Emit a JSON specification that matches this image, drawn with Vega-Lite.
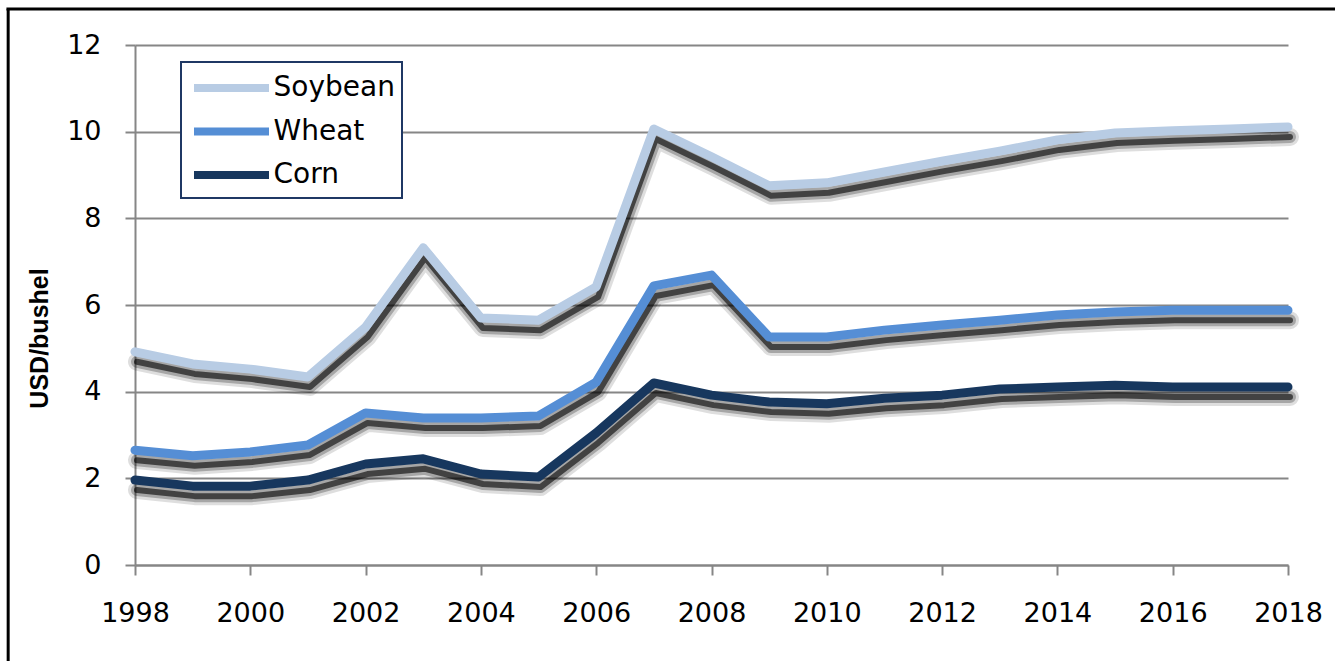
{
  "$schema": "https://vega.github.io/schema/vega-lite/v6.json",
  "width": 1153,
  "height": 520,
  "autosize": {"type": "none"},
  "padding": {"left": 135, "top": 45, "right": 47, "bottom": 96},
  "background": "white",
  "config": {
    "view": {"stroke": null},
    "font": "DejaVu Sans",
    "legend": {"strokeWidth": 2}
  },
  "data": {
    "values": [
      {"year": 1998, "crop": "Soybean", "price": 4.92},
      {"year": 1999, "crop": "Soybean", "price": 4.64},
      {"year": 2000, "crop": "Soybean", "price": 4.52},
      {"year": 2001, "crop": "Soybean", "price": 4.34},
      {"year": 2002, "crop": "Soybean", "price": 5.49},
      {"year": 2003, "crop": "Soybean", "price": 7.32},
      {"year": 2004, "crop": "Soybean", "price": 5.7},
      {"year": 2005, "crop": "Soybean", "price": 5.65},
      {"year": 2006, "crop": "Soybean", "price": 6.42},
      {"year": 2007, "crop": "Soybean", "price": 10.06},
      {"year": 2008, "crop": "Soybean", "price": 9.42},
      {"year": 2009, "crop": "Soybean", "price": 8.75},
      {"year": 2010, "crop": "Soybean", "price": 8.82},
      {"year": 2011, "crop": "Soybean", "price": 9.07},
      {"year": 2012, "crop": "Soybean", "price": 9.32},
      {"year": 2013, "crop": "Soybean", "price": 9.55},
      {"year": 2014, "crop": "Soybean", "price": 9.81},
      {"year": 2015, "crop": "Soybean", "price": 9.97},
      {"year": 2016, "crop": "Soybean", "price": 10.02},
      {"year": 2017, "crop": "Soybean", "price": 10.06},
      {"year": 2018, "crop": "Soybean", "price": 10.11},
      {"year": 1998, "crop": "Wheat", "price": 2.65},
      {"year": 1999, "crop": "Wheat", "price": 2.52},
      {"year": 2000, "crop": "Wheat", "price": 2.61},
      {"year": 2001, "crop": "Wheat", "price": 2.77},
      {"year": 2002, "crop": "Wheat", "price": 3.51},
      {"year": 2003, "crop": "Wheat", "price": 3.39},
      {"year": 2004, "crop": "Wheat", "price": 3.39},
      {"year": 2005, "crop": "Wheat", "price": 3.44},
      {"year": 2006, "crop": "Wheat", "price": 4.22},
      {"year": 2007, "crop": "Wheat", "price": 6.44},
      {"year": 2008, "crop": "Wheat", "price": 6.69},
      {"year": 2009, "crop": "Wheat", "price": 5.26},
      {"year": 2010, "crop": "Wheat", "price": 5.26},
      {"year": 2011, "crop": "Wheat", "price": 5.42},
      {"year": 2012, "crop": "Wheat", "price": 5.54},
      {"year": 2013, "crop": "Wheat", "price": 5.65},
      {"year": 2014, "crop": "Wheat", "price": 5.77},
      {"year": 2015, "crop": "Wheat", "price": 5.84},
      {"year": 2016, "crop": "Wheat", "price": 5.88},
      {"year": 2017, "crop": "Wheat", "price": 5.88},
      {"year": 2018, "crop": "Wheat", "price": 5.88},
      {"year": 1998, "crop": "Corn", "price": 1.96},
      {"year": 1999, "crop": "Corn", "price": 1.82},
      {"year": 2000, "crop": "Corn", "price": 1.82},
      {"year": 2001, "crop": "Corn", "price": 1.96},
      {"year": 2002, "crop": "Corn", "price": 2.33},
      {"year": 2003, "crop": "Corn", "price": 2.45},
      {"year": 2004, "crop": "Corn", "price": 2.1},
      {"year": 2005, "crop": "Corn", "price": 2.03},
      {"year": 2006, "crop": "Corn", "price": 3.05},
      {"year": 2007, "crop": "Corn", "price": 4.2},
      {"year": 2008, "crop": "Corn", "price": 3.92},
      {"year": 2009, "crop": "Corn", "price": 3.76},
      {"year": 2010, "crop": "Corn", "price": 3.72},
      {"year": 2011, "crop": "Corn", "price": 3.85},
      {"year": 2012, "crop": "Corn", "price": 3.92},
      {"year": 2013, "crop": "Corn", "price": 4.06},
      {"year": 2014, "crop": "Corn", "price": 4.11},
      {"year": 2015, "crop": "Corn", "price": 4.15},
      {"year": 2016, "crop": "Corn", "price": 4.11},
      {"year": 2017, "crop": "Corn", "price": 4.11},
      {"year": 2018, "crop": "Corn", "price": 4.11}
    ]
  },
  "layer": [
    {
      "data": {"values": [{}]},
      "mark": {"type": "rule", "color": "black", "strokeWidth": 3},
      "encoding": {
        "x": {"datum": 1995.8, "type": "quantitative"},
        "y": {"datum": 12.83, "type": "quantitative"},
        "y2": {"datum": -3}
      }
    },
    {
      "data": {"values": [{}]},
      "mark": {"type": "rule", "color": "black", "strokeWidth": 3},
      "encoding": {
        "x": {"datum": 1995.77, "type": "quantitative"},
        "x2": {"datum": 2022},
        "y": {"datum": 12.83, "type": "quantitative"}
      }
    },
    {
      "mark": {"type": "line", "color": "black", "opacity": 0.13, "strokeWidth": 18, "strokeCap": "round", "strokeJoin": "round", "xOffset": 2, "yOffset": 10},
      "encoding": {
        "x": {"field": "year", "type": "quantitative"},
        "y": {"field": "price", "type": "quantitative"},
        "detail": {"field": "crop"}
      }
    },
    {
      "mark": {"type": "line", "color": "black", "opacity": 0.25, "strokeWidth": 12, "strokeCap": "round", "strokeJoin": "round", "xOffset": 2, "yOffset": 10},
      "encoding": {
        "x": {"field": "year", "type": "quantitative"},
        "y": {"field": "price", "type": "quantitative"},
        "detail": {"field": "crop"}
      }
    },
    {
      "mark": {"type": "line", "color": "black", "opacity": 0.6, "strokeWidth": 6, "strokeCap": "round", "strokeJoin": "round", "xOffset": 2, "yOffset": 10},
      "encoding": {
        "x": {"field": "year", "type": "quantitative"},
        "y": {"field": "price", "type": "quantitative"},
        "detail": {"field": "crop"}
      }
    },
    {
      "mark": {"type": "line", "strokeWidth": 9, "strokeCap": "round", "strokeJoin": "round"},
      "encoding": {
        "x": {
          "field": "year",
          "type": "quantitative",
          "scale": {"domain": [1998, 2018], "nice": false, "zero": false},
          "axis": {
            "title": null,
            "values": [1998, 2000, 2002, 2004, 2006, 2008, 2010, 2012, 2014, 2016, 2018],
            "format": "d",
            "grid": false,
            "labelFlush": false,
            "labelFont": "DejaVu Sans",
            "labelFontSize": 27,
            "labelColor": "black",
            "labelPadding": 25,
            "domainColor": "#868686",
            "domainWidth": 2,
            "tickColor": "#868686",
            "tickWidth": 2,
            "tickSize": 10
          }
        },
        "y": {
          "field": "price",
          "type": "quantitative",
          "scale": {"domain": [0, 12], "nice": false},
          "axis": {
            "title": "USD/bushel",
            "titleFont": "Liberation Sans",
            "titleFontWeight": "bold",
            "titleFontSize": 25,
            "titleColor": "black",
            "titleAngle": 270,
            "titleAlign": "center",
            "titleBaseline": "middle",
            "titleX": -96,
            "titleY": 293,
            "values": [0, 2, 4, 6, 8, 10, 12],
            "grid": true,
            "gridColor": "#868686",
            "gridWidth": 2,
            "labelFont": "DejaVu Sans",
            "labelFontSize": 27,
            "labelColor": "black",
            "labelPadding": 24,
            "domainColor": "#868686",
            "domainWidth": 2,
            "tickColor": "#868686",
            "tickWidth": 2,
            "tickSize": 10
          }
        },
        "color": {
          "field": "crop",
          "type": "nominal",
          "scale": {"domain": ["Soybean", "Wheat", "Corn"], "range": ["#b8cce4", "#558ed5", "#17375e"]},
          "legend": {
            "orient": "none",
            "legendX": 46,
            "legendY": 17,
            "title": null,
            "strokeColor": "#1f3864",
            "fillColor": "white",
            "padding": 7,
            "symbolType": "M-2.5,0H2.5",
            "symbolSize": 900,
            "symbolStrokeWidth": 8,
            "symbolOffset": 24.5,
            "labelFont": "DejaVu Sans",
            "labelFontSize": 28,
            "labelColor": "black",
            "labelOffset": 23,
            "rowPadding": 8.5
          }
        }
      }
    }
  ]
}
